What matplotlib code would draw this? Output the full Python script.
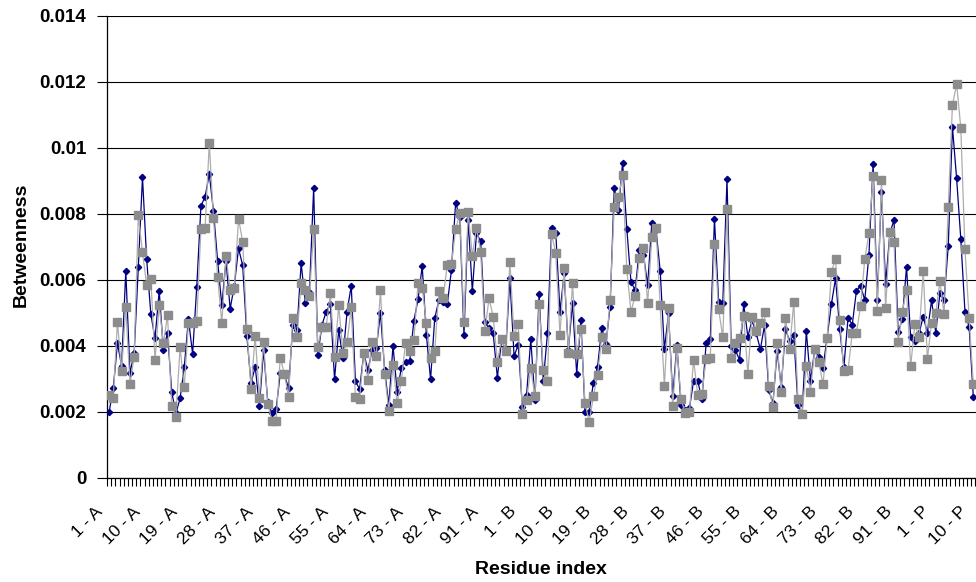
import matplotlib
matplotlib.use("Agg")
import matplotlib.pyplot as plt
from matplotlib.transforms import offset_copy

plt.rcParams['font.family'] = ['Liberation Sans', 'DejaVu Sans']

# ---------------------------
#  Data
# ---------------------------

chains = ["A", "B", "P"]
chain_lengths = [99, 99, 11]
label_step = 9

# navy series, diamonds
series1_A = [
    0.00199, 0.00272, 0.00408, 0.00340, 0.00628, 0.00317, 0.00378, 0.00638, 0.00912, 0.00663,
    0.00496, 0.00423, 0.00567, 0.00388, 0.00440, 0.00261, 0.00196, 0.00241, 0.00335, 0.00482,
    0.00376, 0.00580, 0.00824, 0.00853, 0.00921, 0.00809, 0.00657, 0.00523, 0.00657, 0.00513,
    0.00583, 0.00696, 0.00644, 0.00430, 0.00287, 0.00337, 0.00218, 0.00388, 0.00231, 0.00196,
    0.00208, 0.00317, 0.00312, 0.00272, 0.00464, 0.00448, 0.00651, 0.00531, 0.00565, 0.00880,
    0.00373, 0.00464, 0.00504, 0.00527, 0.00299, 0.00448, 0.00363, 0.00504, 0.00583, 0.00294,
    0.00269, 0.00378, 0.00327, 0.00388, 0.00393, 0.00501, 0.00327, 0.00221, 0.00401, 0.00262,
    0.00334, 0.00353, 0.00355, 0.00476, 0.00541, 0.00642, 0.00433, 0.00299, 0.00484, 0.00539,
    0.00534, 0.00526, 0.00630, 0.00834, 0.00792, 0.00433, 0.00782, 0.00567, 0.00741, 0.00718,
    0.00472, 0.00454, 0.00438, 0.00304, 0.00418, 0.00388, 0.00605, 0.00370, 0.00403,
]
series1_B = [
    0.00214, 0.00252, 0.00420, 0.00236, 0.00557, 0.00294, 0.00438, 0.00757, 0.00741, 0.00504,
    0.00620, 0.00388, 0.00531, 0.00315, 0.00479, 0.00201, 0.00201, 0.00289, 0.00337, 0.00454,
    0.00406, 0.00519, 0.00878, 0.00812, 0.00956, 0.00756, 0.00595, 0.00570, 0.00691, 0.00676,
    0.00585, 0.00774, 0.00752, 0.00628, 0.00390, 0.00499, 0.00248, 0.00403, 0.00221, 0.00206,
    0.00211, 0.00294, 0.00294, 0.00238, 0.00408, 0.00420, 0.00785, 0.00534, 0.00531, 0.00906,
    0.00400, 0.00388, 0.00358, 0.00526, 0.00428, 0.00479, 0.00438, 0.00390, 0.00464, 0.00267,
    0.00226, 0.00385, 0.00277, 0.00451, 0.00416, 0.00433, 0.00221, 0.00196, 0.00445, 0.00294,
    0.00388, 0.00368, 0.00334, 0.00428, 0.00526, 0.00605, 0.00451, 0.00337, 0.00486, 0.00464,
    0.00567, 0.00583, 0.00539, 0.00676, 0.00952, 0.00539, 0.00868, 0.00587, 0.00741, 0.00782,
    0.00441, 0.00482, 0.00640, 0.00426, 0.00416, 0.00438, 0.00489, 0.00440, 0.00539,
]
series1_P = [0.00440, 0.00560, 0.00539, 0.00703, 0.01064, 0.00908, 0.00725, 0.00504, 0.00457, 0.00246]

# gray series, squares
series2_A = [
    0.00252, 0.00243, 0.00474, 0.00325, 0.00519, 0.00284, 0.00368, 0.00796, 0.00684, 0.00585,
    0.00604, 0.00358, 0.00523, 0.00408, 0.00493, 0.00218, 0.00186, 0.00396, 0.00275, 0.00469,
    0.00469, 0.00477, 0.00756, 0.00759, 0.01014, 0.00787, 0.00610, 0.00469, 0.00674, 0.00570,
    0.00575, 0.00786, 0.00716, 0.00452, 0.00269, 0.00430, 0.00243, 0.00413, 0.00224, 0.00174,
    0.00174, 0.00365, 0.00315, 0.00246, 0.00486, 0.00426, 0.00590, 0.00570, 0.00552, 0.00754,
    0.00398, 0.00459, 0.00459, 0.00560, 0.00366, 0.00523, 0.00380, 0.00411, 0.00517, 0.00246,
    0.00240, 0.00380, 0.00297, 0.00413, 0.00370, 0.00570, 0.00315, 0.00204, 0.00342, 0.00228,
    0.00294, 0.00410, 0.00385, 0.00418, 0.00590, 0.00577, 0.00471, 0.00363, 0.00385, 0.00567,
    0.00546, 0.00645, 0.00647, 0.00754, 0.00802, 0.00474, 0.00807, 0.00673, 0.00759, 0.00686,
    0.00445, 0.00544, 0.00489, 0.00353, 0.00421, 0.00386, 0.00656, 0.00430, 0.00467,
]
series2_B = [
    0.00194, 0.00236, 0.00332, 0.00248, 0.00526, 0.00327, 0.00294, 0.00738, 0.00681, 0.00433,
    0.00637, 0.00380, 0.00590, 0.00375, 0.00451, 0.00228, 0.00169, 0.00248, 0.00312, 0.00426,
    0.00390, 0.00539, 0.00822, 0.00851, 0.00918, 0.00632, 0.00504, 0.00552, 0.00666, 0.00696,
    0.00529, 0.00731, 0.00759, 0.00523, 0.00279, 0.00514, 0.00218, 0.00395, 0.00239, 0.00196,
    0.00199, 0.00358, 0.00252, 0.00255, 0.00361, 0.00365, 0.00709, 0.00511, 0.00426, 0.00815,
    0.00365, 0.00410, 0.00423, 0.00491, 0.00315, 0.00489, 0.00445, 0.00469, 0.00504, 0.00280,
    0.00214, 0.00408, 0.00260, 0.00486, 0.00390, 0.00532, 0.00239, 0.00193, 0.00340, 0.00262,
    0.00390, 0.00351, 0.00284, 0.00423, 0.00625, 0.00663, 0.00479, 0.00324, 0.00327, 0.00440,
    0.00440, 0.00521, 0.00663, 0.00741, 0.00915, 0.00507, 0.00902, 0.00514, 0.00744, 0.00716,
    0.00411, 0.00504, 0.00570, 0.00339, 0.00467, 0.00428, 0.00628, 0.00360, 0.00471,
]
series2_P = [0.00499, 0.00597, 0.00496, 0.00822, 0.01130, 0.01194, 0.01062, 0.00694, 0.00484, 0.00284]

yticks = [0, 0.002, 0.004, 0.006, 0.008, 0.010, 0.012, 0.014]
ytick_labels = ["0", "0.002", "0.004", "0.006", "0.008", "0.01", "0.012", "0.014"]


# ---------------------------
#  Plot
# ---------------------------

def main():
    categories = [f"{r} - {c}" for c, n in zip(chains, chain_lengths) for r in range(1, n + 1)]
    s1 = series1_A + series1_B + series1_P
    s2 = series2_A + series2_B + series2_P
    n_cat = len(categories)

    W, H = 976, 582
    fig = plt.figure(figsize=(W / 100, H / 100), dpi=100)
    step = 4.175  # px per category
    ax = fig.add_axes([107 / W, (H - 478) / H, step * n_cat / W, (478 - 16) / H])

    ax.plot(range(len(s1)), s1, color="#000080", lw=0.9, marker="D", ms=3.2,
            mfc="#000080", mec="#000080", zorder=3)
    ax.plot(range(len(s2)), s2, color="#adadad", lw=0.9, marker="s", ms=6,
            mfc="#8c8c8c", mec="#8c8c8c", zorder=4)

    ax.set_xlim(-0.5, n_cat - 0.5)
    ax.set_ylim(0, 0.014)

    # y axis
    ax.set_yticks(yticks)
    ax.set_yticklabels(ytick_labels, fontsize=13.5, fontweight="bold")
    ax.tick_params(axis="y", direction="out", length=7, width=0.8, pad=8, colors="black")
    ax.grid(axis="y", color="black", lw=0.8)
    ax.set_axisbelow(True)

    # x axis: tick marks between categories, labels every 9th
    ax.set_xticks([i - 0.5 for i in range(n_cat + 1)])
    ax.set_xticklabels([])
    ax.tick_params(axis="x", direction="out", length=6, width=0.8, colors="black")
    lab_tr = offset_copy(ax.get_xaxis_transform(), fig=fig, x=-14, y=-26, units="dots")
    for i in range(0, n_cat, label_step):
        if i >= len(s1):
            break
        ax.text(i, 0, categories[i], transform=lab_tr, rotation=45, ha="right", va="top",
                rotation_mode="anchor", fontsize=12.5)

    for side in ("top", "right"):
        ax.spines[side].set_visible(False)
    ax.spines["left"].set_linewidth(0.9)
    ax.spines["bottom"].set_linewidth(0.9)

    fig.text(541 / W, 1 - 570 / H, "Residue index", ha="center", va="center",
             fontsize=14, fontweight="bold")
    fig.text(21 / W, 1 - 245 / H, "Betweenness", ha="center", va="center",
             rotation=90, fontsize=14, fontweight="bold")

    fig.savefig("out.png", dpi=100)


if __name__ == "__main__":
    main()
